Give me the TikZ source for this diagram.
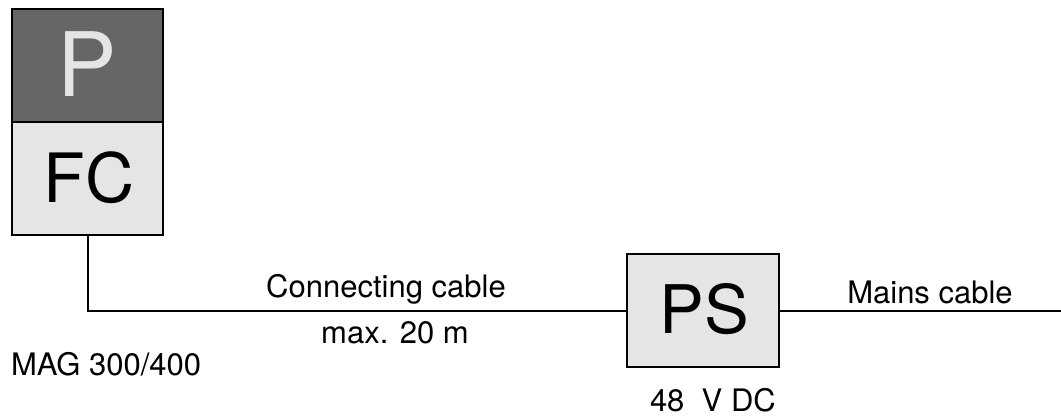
\documentclass[tikz,border=0pt]{standalone}
\usepackage{fontspec}
\setmainfont{TeX Gyre Heros}
\definecolor{pdark}{gray}{0.4}
\definecolor{plight}{gray}{0.9}
\tikzset{
  box/.style={draw=black, line width=2pt, inner sep=0pt, outer sep=0pt},
  lbl/.style={inner sep=0pt, outer sep=0pt, font=\fontsize{31}{31}\selectfont, anchor=base},
  wire/.style={line width=2pt}
}
\begin{document}
\begin{tikzpicture}[x=1pt,y=-1pt]
\useasboundingbox (0,0) rectangle (1061,416);
\node[box, fill=pdark, minimum width=151pt, minimum height=113pt] (P) at (87.5,65.5) {};
\node[box, fill=plight, minimum width=151pt, minimum height=113pt] (FC) at (87.5,178.5) {};
\node[box, fill=plight, minimum width=152pt, minimum height=113pt] (PS) at (703,310.5) {};
\node[lbl, text=plight, font=\fontsize{89}{89}\selectfont] (Ptext) at (87.5,96) {P};
\node[lbl, font=\fontsize{68}{68}\selectfont] (FCtext) at (89,202) {FC};
\node[lbl, font=\fontsize{67}{67}\selectfont] (PStext) at (704,333) {PS};
\coordinate (mainsend) at (1061,310.5);
\draw[wire] (FC.south) |- (PS.west);
\draw[wire] (PS.east) -- (mainsend);
\node[lbl] (conn) at (386,297) {Connecting cable};
\node[lbl] (max) at (395,343) {max. 20 m};
\node[lbl, anchor=base west] (mag) at (11,375) {MAG 300/400};
\node[lbl] (mains) at (930,303) {Mains cable};
\node[lbl, anchor=base west] (volt) at (650,411) {48~~V DC};
\end{tikzpicture}
\end{document}
